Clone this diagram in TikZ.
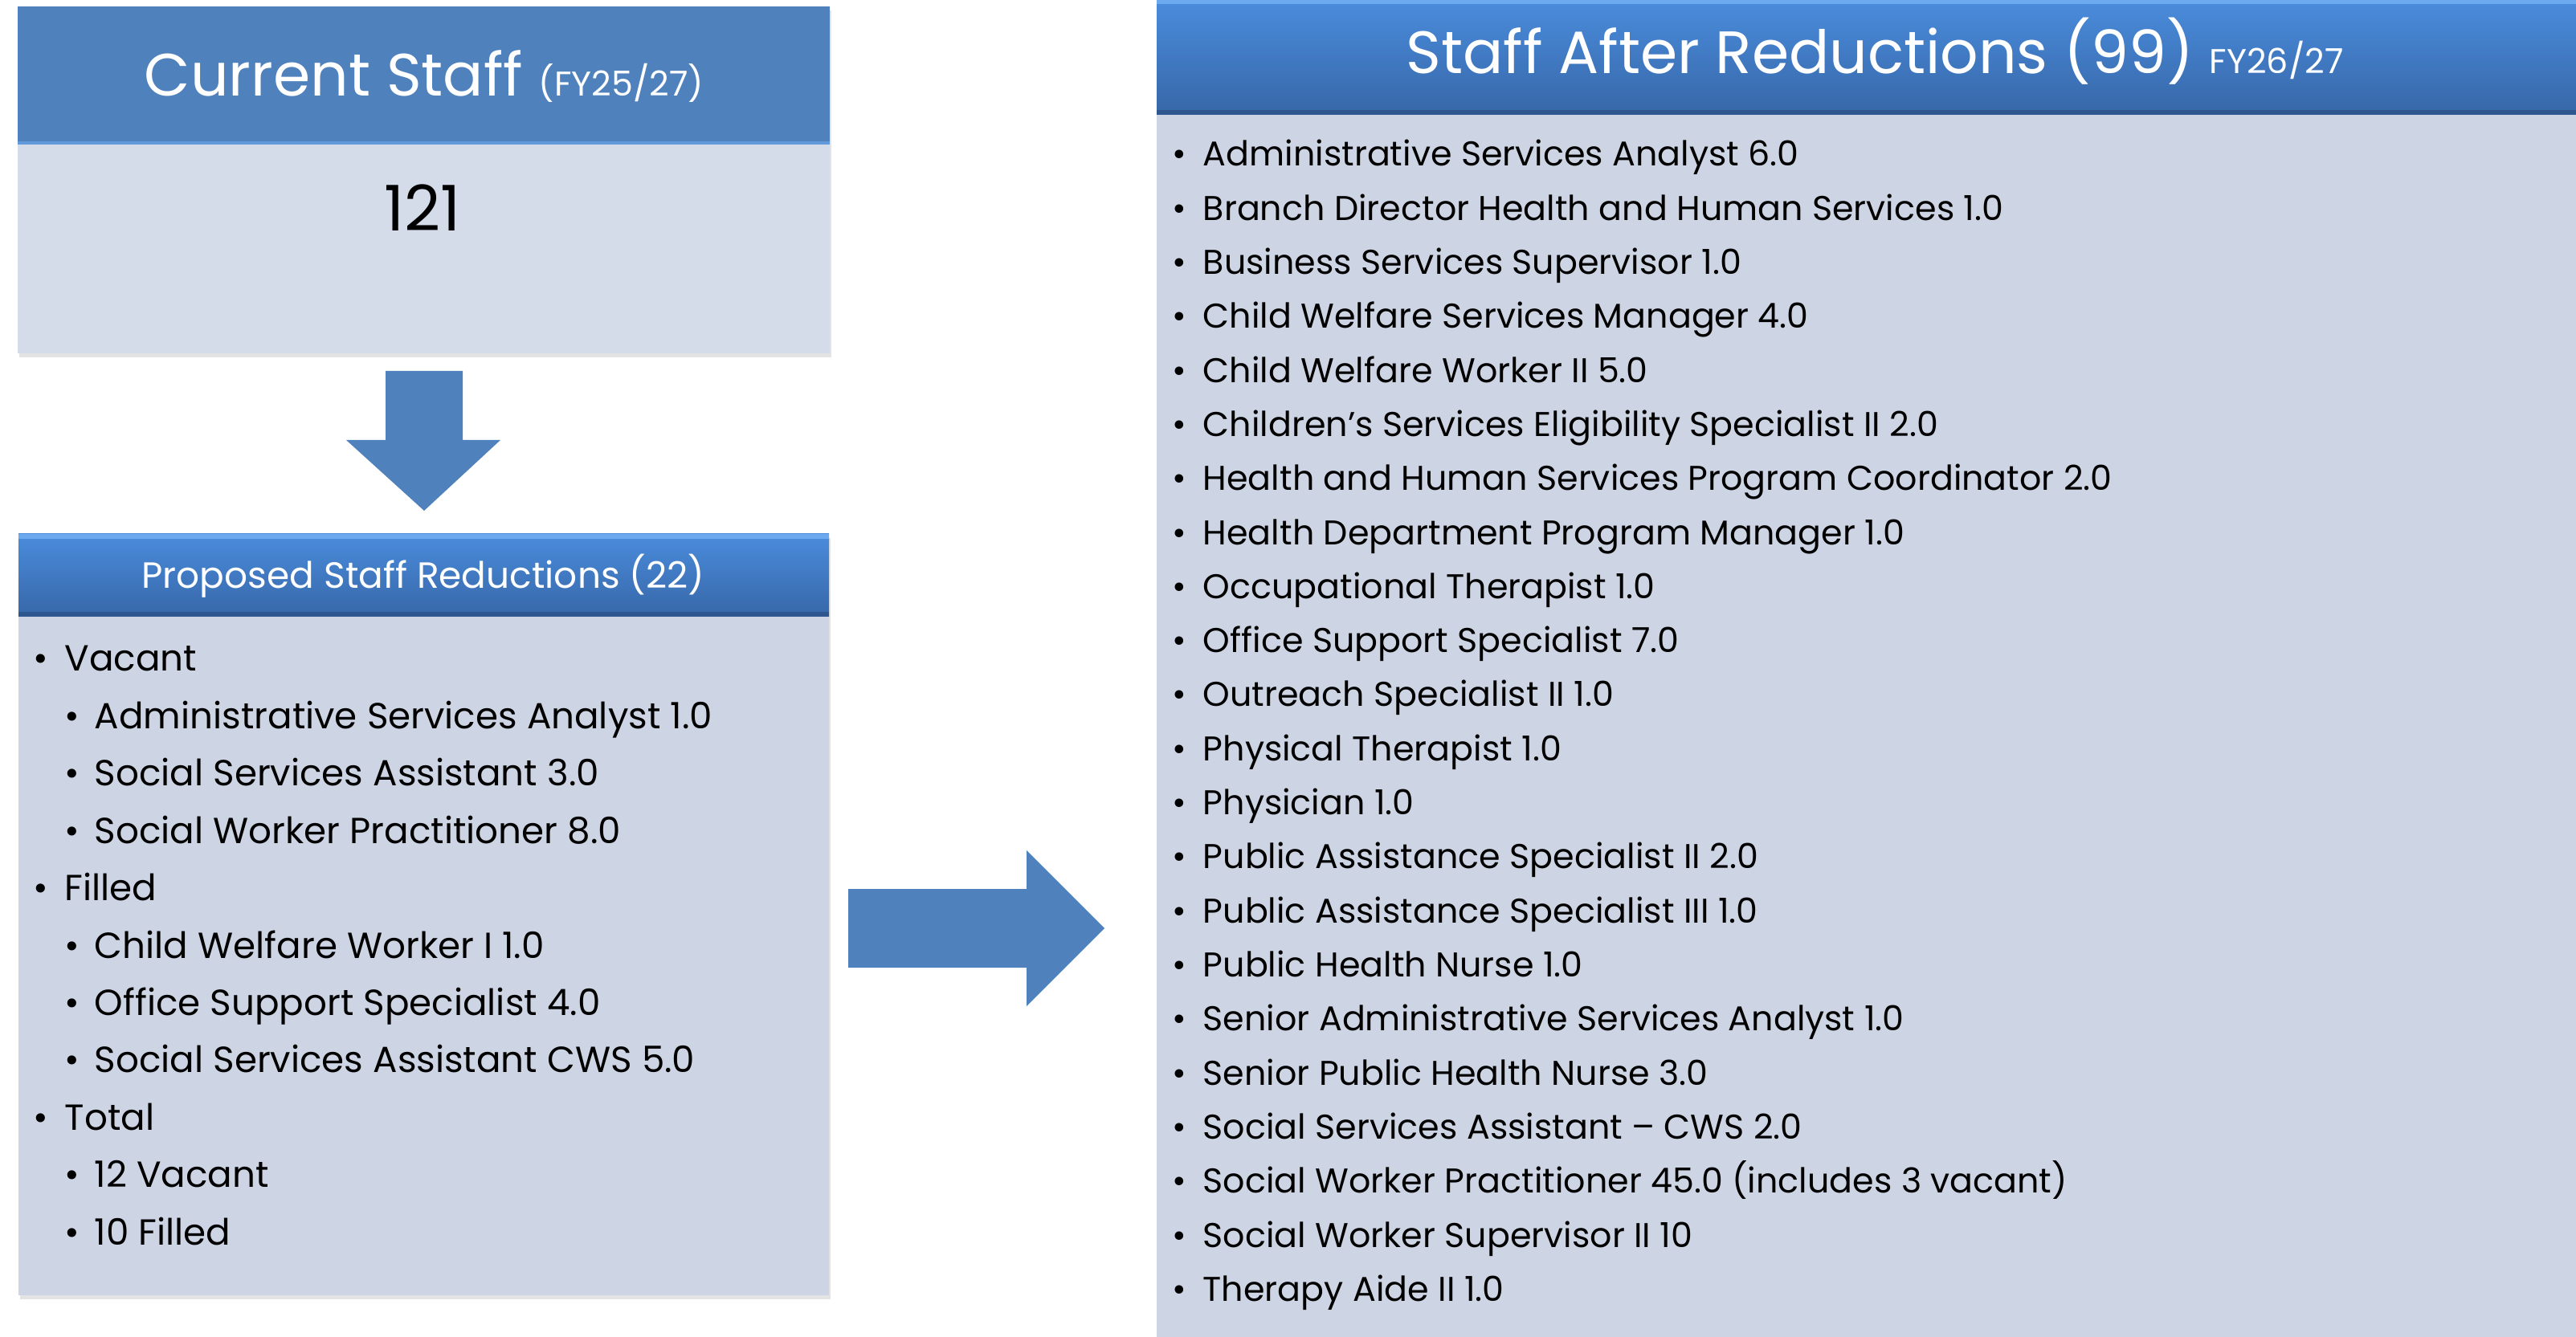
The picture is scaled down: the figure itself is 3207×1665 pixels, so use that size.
\documentclass[tikz,border=0pt]{standalone}
\usepackage{fontspec}
\setmainfont{Poppins}
\usetikzlibrary{shadows}

\definecolor{plainBlue}{HTML}{4F81BD}
\definecolor{paleBody}{HTML}{D4DCEA}
\definecolor{listBody}{HTML}{CDD4E4}
\definecolor{hdrTop}{HTML}{4A8CDC}
\definecolor{hdrBot}{HTML}{3767A8}
\definecolor{hdrRim}{HTML}{6DA9EE}

\tikzset{
  boxshadow/.style={drop shadow={shadow xshift=0.6pt, shadow yshift=-1.2pt, opacity=0.22}},
  gradhead/.style={top color=hdrTop, bottom color=hdrBot},
  blockarrow/.style={fill=plainBlue},
  bigtitle/.style={anchor=base, inner sep=0pt, text=white, font=\fontsize{18.6}{22}\selectfont},
  smalltitle/.style={anchor=base, inner sep=0pt, text=white, font=\fontsize{11.35}{13}\selectfont},
  bulletmark/.style={anchor=base, inner sep=0pt},
  leftitem/.style={anchor=base west, inner sep=0pt, font=\fontsize{11.3}{13}\selectfont},
  rightitem/.style={anchor=base west, inner sep=0pt, font=\fontsize{10.7}{13}\selectfont}
}

\begin{document}
\begin{tikzpicture}[x=0.25pt, y=-0.25pt]
    \useasboundingbox (0,0) rectangle (3207,1665);
    \fill[white] (0,0) rectangle (3207,1665);

    % Current staff box
    \fill[paleBody, boxshadow] (22,8) rectangle (1033,440);
    \fill[plainBlue] (22,8) rectangle (1033,178);
    \draw[hdrRim!60!plainBlue, line width=1pt] (22,178) -- (1033,178);
    \node[bigtitle] (curTitle) at (528,120)
        {Current Staff {\fontsize{10.7}{13}\selectfont (FY25/27)}};
    \node[anchor=base, inner sep=0pt, font=\fontsize{19.6}{22}\selectfont] (curCount) at (526,288) {121};

    % Down arrow
    \coordinate (dnTop) at (528,462);
    \fill[blockarrow] (dnTop) ++(-48,0) -- ++(96,0) -- ++(0,86) -- ++(47,0)
        -- ++(-95,88) -- ++(-97,-88) -- ++(49,0) -- cycle;

    % Proposed reductions box
    \fill[listBody, boxshadow] (23,665) rectangle (1032,1613);
    \fill[gradhead] (23,665) rectangle (1032,768);
    \fill[hdrRim] (23,665) rectangle (1032,671);
    \fill[hdrBot!85!black] (23,762) rectangle (1032,768);
    \node[smalltitle] (propTitle) at (527,733) {Proposed Staff Reductions (22)};

    \foreach \lvl/\txt [count=\k from 0] in {
        1/Vacant,
        2/Administrative Services Analyst 1.0,
        2/Social Services Assistant 3.0,
        2/Social Worker Practitioner 8.0,
        1/Filled,
        2/Child Welfare Worker I 1.0,
        2/Office Support Specialist 4.0,
        2/Social Services Assistant CWS 5.0,
        1/Total,
        2/12 Vacant,
        2/10 Filled} {
      \pgfmathsetmacro{\bx}{51+39*(\lvl-1)}
      \pgfmathsetmacro{\tx}{80+37*(\lvl-1)}
      \pgfmathsetmacro{\by}{836+71.4*\k}
      \node[bulletmark, font=\fontsize{11.3}{13}\selectfont] (propDot\k) at (\bx,\by) {•};
      \node[leftitem] (propItem\k) at (\tx,\by) {\txt};
    }

    % Right arrow
    \coordinate (rtTail) at (1056,1156);
    \fill[blockarrow] (rtTail) ++(0,-49) -- ++(222,0) -- ++(0,-48) -- ++(97,97)
        -- ++(-97,97) -- ++(0,-48) -- ++(-222,0) -- cycle;

    % Staff after reductions box
    \fill[listBody, boxshadow] (1440,0) rectangle (3207,1665);
    \fill[gradhead] (1440,0) rectangle (3207,143);
    \fill[hdrRim] (1440,0) rectangle (3207,5);
    \fill[hdrBot!85!black] (1440,137) rectangle (3207,143);
    \node[bigtitle] (afterTitle) at (2334,92)
        {Staff After Reductions (99) {\fontsize{10.7}{13}\selectfont FY26/27}};

    \foreach \txt [count=\k from 0] in {
        Administrative Services Analyst 6.0,
        Branch Director Health and Human Services 1.0,
        Business Services Supervisor 1.0,
        Child Welfare Services Manager 4.0,
        Child Welfare Worker II 5.0,
        Children’s Services Eligibility Specialist II 2.0,
        Health and Human Services Program Coordinator 2.0,
        Health Department Program Manager 1.0,
        Occupational Therapist 1.0,
        Office Support Specialist 7.0,
        Outreach Specialist II 1.0,
        Physical Therapist 1.0,
        Physician 1.0,
        Public Assistance Specialist II 2.0,
        Public Assistance Specialist III 1.0,
        Public Health Nurse 1.0,
        Senior Administrative Services Analyst 1.0,
        Senior Public Health Nurse 3.0,
        Social Services Assistant – CWS 2.0,
        Social Worker Practitioner 45.0 (includes 3 vacant),
        Social Worker Supervisor II 10,
        Therapy Aide II 1.0} {
      \pgfmathsetmacro{\by}{207+67.3*\k}
      \node[bulletmark, font=\fontsize{10.7}{13}\selectfont] (afterDot\k) at (1468,\by) {•};
      \node[rightitem] (afterItem\k) at (1497,\by) {\txt};
    }
\end{tikzpicture}
\end{document}
